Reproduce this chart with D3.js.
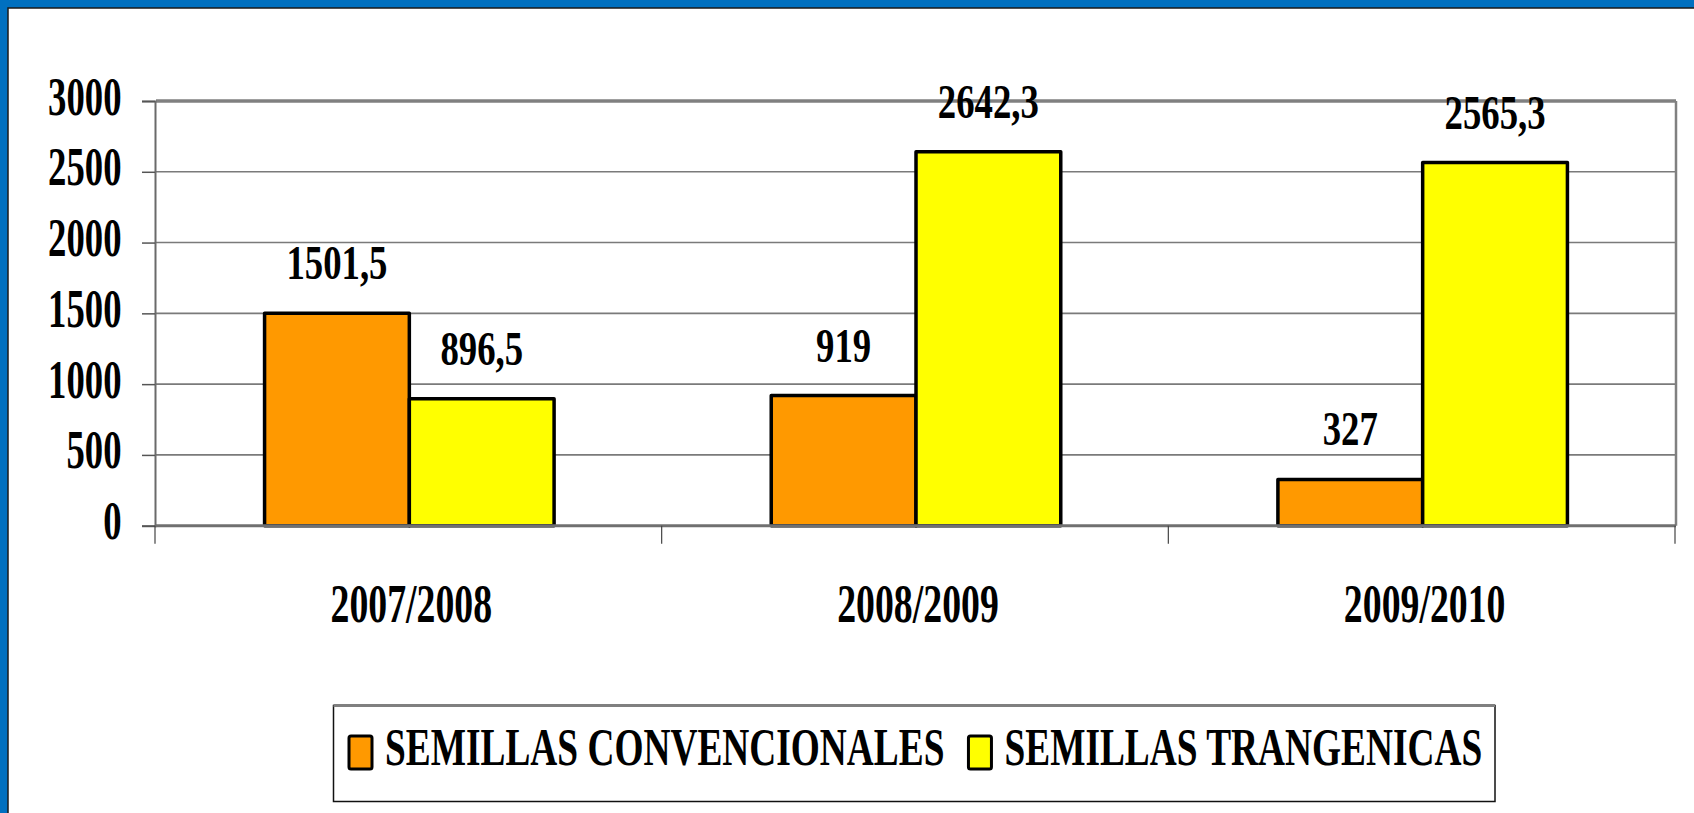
<!DOCTYPE html>
<html>
<head>
<meta charset="utf-8">
<script src="https://cdn.jsdelivr.net/npm/d3@7/dist/d3.min.js"></script>
<style>
  html, body { margin: 0; padding: 0; background: #ffffff; }
  svg { display: block; }
  text { font-family: "Liberation Serif", "Times New Roman", serif; font-weight: bold; fill: #000; }
</style>
</head>
<body>
<svg id="chart" width="1694" height="813"></svg>
<script>
const categories = ["2007/2008", "2008/2009", "2009/2010"];
const seriesNames = ["SEMILLAS CONVENCIONALES", "SEMILLAS TRANGENICAS"];
const convencionales = [1501.5, 919, 327];
const transgenicas = [896.5, 2642.3, 2565.3];
const valueLabels = [["1501,5", "919", "327"], ["896,5", "2642,3", "2565,3"]];
const yTicks = [0, 500, 1000, 1500, 2000, 2500, 3000];
const colors = ["#FF9900", "#FFFF00"];

const W = 1694, H = 813;
const svg = d3.select("#chart");

// frame: blue border top/left
svg.append("rect").attr("x", 0).attr("y", 0).attr("width", W).attr("height", H).attr("fill", "#0070C0");
svg.append("rect").attr("x", 8).attr("y", 8).attr("width", W).attr("height", H).attr("fill", "#ffffff")
  .attr("stroke", "#1a1a1a").attr("stroke-width", 1.5);

const plot = { left: 156, right: 1676, top: 101, bottom: 525.7 };

const y = d3.scaleLinear().domain([0, 3000]).range([plot.bottom, plot.top]);
const x0 = d3.scaleBand().domain(categories).range([plot.left, plot.right]).paddingInner(0).paddingOuter(0);
const x1 = d3.scaleBand().domain(seriesNames).range([0, x0.bandwidth()]).paddingInner(0).paddingOuter(0.75);

// gridlines
svg.append("g").selectAll("line").data(yTicks.filter(d => d > 0 && d < 3000)).join("line")
  .attr("x1", plot.left).attr("x2", plot.right)
  .attr("y1", d => y(d)).attr("y2", d => y(d))
  .attr("stroke", "#7a7a7a").attr("stroke-width", 1.6);

// plot area border top & right
svg.append("line").attr("x1", plot.left).attr("x2", plot.right).attr("y1", y(3000)).attr("y2", y(3000))
  .attr("stroke", "#808080").attr("stroke-width", 3.5);
svg.append("line").attr("x1", plot.right).attr("x2", plot.right).attr("y1", y(3000)).attr("y2", plot.bottom)
  .attr("stroke", "#808080").attr("stroke-width", 2.5);

// y axis
const yAxis = d3.axisLeft(y).tickValues(yTicks).tickSize(13).tickPadding(0).tickFormat(d3.format("d"));
const gy = svg.append("g").attr("transform", `translate(${plot.left - 1},0)`).call(yAxis);
gy.select(".domain").attr("stroke", "#6a6a6a").attr("stroke-width", 2);
gy.selectAll(".tick line").attr("stroke", "#555").attr("stroke-width", 1.5);
gy.selectAll(".tick text")
  .attr("x", null).attr("dy", null).attr("y", null)
  .attr("text-anchor", "end")
  .style("font-size", "54px")
  .attr("transform", "translate(-33.5,13) scale(0.68,1)");

// bars
const bars = svg.append("g");
const seriesData = [convencionales, transgenicas];
seriesData.forEach((vals, si) => {
  bars.selectAll(`rect.s${si}`).data(vals).join("rect")
    .attr("class", `s${si}`)
    .attr("x", (d, i) => x0(categories[i]) + x1(seriesNames[si]))
    .attr("y", d => y(d))
    .attr("width", x1.bandwidth())
    .attr("height", d => y(0) - y(d))
    .attr("fill", colors[si])
    .attr("stroke", "#000").attr("stroke-width", 3.5).attr("stroke-linejoin", "round");
});

// x axis line
svg.append("line").attr("x1", plot.left - 1).attr("x2", plot.right).attr("y1", plot.bottom).attr("y2", plot.bottom)
  .attr("stroke", "#707070").attr("stroke-width", 3);

// category boundary ticks
const bounds = categories.map(c => x0(c)).concat([x0(categories[categories.length - 1]) + x0.bandwidth()]);
svg.append("g").selectAll("line").data(bounds).join("line")
  .attr("x1", d => d - 1).attr("x2", d => d - 1)
  .attr("y1", plot.bottom).attr("y2", plot.bottom + 18)
  .attr("stroke", "#444").attr("stroke-width", 1.2);

// category labels via axis
const xAxis = d3.axisBottom(x0).tickSize(0).tickPadding(0);
const gx = svg.append("g").attr("transform", `translate(0,${plot.bottom})`).call(xAxis);
gx.select(".domain").remove();
gx.selectAll(".tick text")
  .attr("y", null).attr("dy", null)
  .attr("text-anchor", "middle")
  .style("font-size", "54px")
  .attr("transform", "translate(2,96) scale(0.70,1)");

// data labels
seriesData.forEach((vals, si) => {
  svg.append("g").selectAll("text").data(vals).join("text")
    .attr("text-anchor", "middle")
    .style("font-size", "49px")
    .attr("transform", (d, i) => {
      const cx = x0(categories[i]) + x1(seriesNames[si]) + x1.bandwidth() / 2;
      return `translate(${cx},${y(d) - 34}) scale(0.75,1)`;
    })
    .text((d, i) => valueLabels[si][i]);
});

// legend
const legend = svg.append("g");
legend.append("rect").attr("x", 333.5).attr("y", 705.5).attr("width", 1161.5).attr("height", 96)
  .attr("fill", "#fff").attr("stroke", "#111").attr("stroke-width", 1.5);
legend.append("line").attr("x1", 333.5).attr("x2", 1495).attr("y1", 705.5).attr("y2", 705.5)
  .attr("stroke", "#808080").attr("stroke-width", 3);

let lx = 349;
const legendScale = 0.705;
seriesNames.forEach((name, si) => {
  legend.append("rect").attr("x", lx).attr("y", 736).attr("width", 23).attr("height", 33)
    .attr("rx", 2).attr("fill", colors[si]).attr("stroke", "#000").attr("stroke-width", 3);
  const tx = lx + 36;
  const t = legend.append("text")
    .style("font-size", "53px")
    .attr("transform", `translate(${tx},765) scale(${legendScale},1)`)
    .text(name);
  const w = t.node().getComputedTextLength() * legendScale;
  lx = tx + w + 24;
});
</script>
</body>
</html>
